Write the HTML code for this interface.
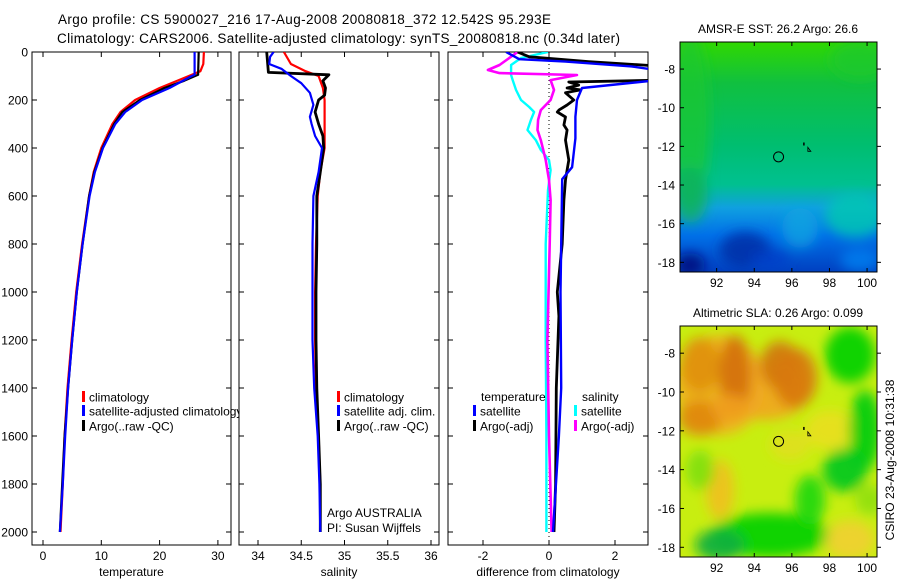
<!DOCTYPE html>
<html><head><meta charset="utf-8"><style>
html,body{margin:0;padding:0;background:#fff;}
svg{display:block;font-family:"Liberation Sans",sans-serif;}
</style></head><body>
<svg id="c" width="900" height="580" viewBox="0 0 900 580" xmlns="http://www.w3.org/2000/svg">
<defs>
<clipPath id="cp1"><rect x="32" y="52" width="199" height="493"/></clipPath>
<clipPath id="cp2"><rect x="239" y="52" width="200" height="493"/></clipPath>
<clipPath id="cp3"><rect x="448" y="52" width="200" height="493"/></clipPath>
<clipPath id="cpleg"><rect x="32" y="52" width="207" height="493"/></clipPath>
<clipPath id="cpm1"><rect x="680" y="42" width="197" height="230"/></clipPath>
<clipPath id="cpm2"><rect x="680" y="326" width="197" height="231"/></clipPath>
<filter id="bl" x="-50%" y="-50%" width="200%" height="200%"><feGaussianBlur stdDeviation="6"/></filter>
<linearGradient id="sstg" x1="0" y1="0" x2="0" y2="1">
<stop offset="0" stop-color="#30d800"/><stop offset="0.18" stop-color="#10c040"/>
<stop offset="0.45" stop-color="#00be70"/><stop offset="0.62" stop-color="#00c090"/>
<stop offset="0.72" stop-color="#10a0e0"/><stop offset="0.84" stop-color="#0070e8"/>
<stop offset="1" stop-color="#0040c0"/></linearGradient>
</defs>
<text x="58" y="24" font-size="13.5" textLength="493">Argo profile: CS 5900027_216 17-Aug-2008 20080818_372 12.542S 95.293E</text>
<text x="57" y="43" font-size="13.5" textLength="563">Climatology: CARS2006. Satellite-adjusted climatology: synTS_20080818.nc (0.34d later)</text>
<g id="g"></g>
</svg>
<script>
// ---------- data ----------
const depthTicks=[0,200,400,600,800,1000,1200,1400,1600,1800,2000];
const tempTicks=[0,10,20,30];
const salTicks=[34,34.5,35,35.5,36];
const salTickLabels=["34","34.5","35","35.5","36"];
const diffTicks=[-2,0,2];
// temperature profiles
const tClimDepth=[0,50,80,100,150,200,250,300,400,500,600,800,1000,1200,1400,1600,1800,2000];
const tClimVal=[27.6,27.5,27,25,20,15.8,13.3,11.9,10,8.7,7.9,6.7,5.7,4.9,4.2,3.7,3.4,3.0];
const tSatDepth=[0,95,100,150,200,250,300,400,500,600,800,1000,1200,1400,1600,1800,2000];
const tSatVal=[26.0,26.0,25.5,21.7,17,14.1,12.4,10.3,8.9,8.0,6.8,5.8,5.0,4.3,3.8,3.4,2.9];
const tArgoDepth=[0,95,120,150,200,250,300,400,500,600,800,1000,1200,1400,1600,1800,2000];
const tArgoVal=[26.7,26.6,24.2,20.8,16.6,13.6,12.2,10.2,8.8,7.9,6.8,5.8,5.0,4.3,3.7,3.3,2.9];
// salinity profiles
const sClimDepth=[0,50,80,100,150,200,300,400,500,600,800,1000,1200,1400,1600,1800,2000];
const sClimVal=[34.30,34.38,34.55,34.70,34.75,34.77,34.77,34.77,34.72,34.69,34.67,34.66,34.66,34.67,34.70,34.72,34.72];
const sSatDepth=[0,20,50,70,100,130,170,220,270,300,350,400,500,600,800,1000,1200,1400,1600,1800,2000];
const sSatVal=[34.18,34.14,34.13,34.27,34.38,34.50,34.60,34.64,34.60,34.62,34.66,34.74,34.70,34.64,34.63,34.63,34.63,34.65,34.69,34.71,34.72];
const sArgoDepth=[0,85,95,120,150,180,200,250,300,350,400,500,600,800,1000,1200,1400,1600,1800,2000];
const sArgoVal=[34.10,34.12,34.82,34.75,34.78,34.77,34.70,34.66,34.70,34.75,34.76,34.72,34.68,34.68,34.67,34.67,34.68,34.70,34.72,34.72];
// differences from climatology
const dTSatDepth=[0,30,40,60,80,100,150,200,270,360,480,530,800,1000,1400,1600,2000];
const dTSatVal=[-1.3,-0.9,0.5,2.5,3.5,4.5,1.0,0.85,0.8,0.8,0.7,0.4,0.37,0.35,0.37,0.3,0.12];
const dTArgoDepth=[0,20,40,60,117,125,138,150,158,170,200,221,242,250,271,304,325,367,408,450,492,533,617,800,1000,1100,1400,1800,2000];
const dTArgoVal=[-0.95,-0.6,1.2,3.5,3.5,0.6,0.9,0.55,0.95,0.5,0.75,0.55,0.3,0.25,0.5,0.45,0.55,0.5,0.55,0.6,0.55,0.5,0.45,0.4,0.25,0.3,0.22,0.2,0.15];
const dSArgoDepth=[0,54,75,88,96,117,158,200,242,283,325,367,450,533,617,800,1200,1600,2000];
const dSArgoVal=[-0.95,-1.5,-1.85,-1.5,0.85,0.05,0.15,0.05,-0.25,-0.33,-0.35,-0.25,-0.1,0.0,0.05,0.02,-0.05,0.0,0.08];
const dSSatDepth=[0,25,54,96,117,158,200,229,250,283,304,325,367,408,450,492,575,800,1200,1600,2000];
const dSSatVal=[-0.03,-0.85,-1.15,-1.15,-1.1,-1.0,-0.85,-0.6,-0.45,-0.55,-0.6,-0.65,-0.4,-0.25,0.0,0.05,-0.03,-0.1,-0.1,-0.08,-0.08];

// ---------- scales ----------
const NS="http://www.w3.org/2000/svg";
const G=document.getElementById('g');
const yD=d=>52+d*0.24;
const xT=v=>43+5.83*v;
const xS=v=>258+86.5*(v-34);
const xDf=v=>549+33*v;
function el(tag,attrs,parent){const e=document.createElementNS(NS,tag);for(const k in attrs)e.setAttribute(k,attrs[k]);(parent||G).appendChild(e);return e;}
function txt(x,y,s,size,anchor,parent){const t=el('text',{x:x,y:y,'font-size':size||12,'text-anchor':anchor||'start'},parent);t.textContent=s;return t;}

function panel(x0,w,name){
  const r=el('rect',{x:x0,y:52,width:w,height:493,fill:'none',stroke:'#000','stroke-width':1});
  
  
  depthTicks.forEach(d=>{
    el('line',{x1:x0,x2:x0+5,y1:yD(d),y2:yD(d),stroke:'#000'});
    el('line',{x1:x0+w-5,x2:x0+w,y1:yD(d),y2:yD(d),stroke:'#000'});
  });
}
function xticks(x0,w,ticks,labels,sx,title,name){
  const g=el('g',{});
  
  
  ticks.forEach((v,i)=>{
    const x=sx(v);
    el('line',{x1:x,x2:x,y1:545,y2:540,stroke:'#000'},g);
    el('line',{x1:x,x2:x,y1:52,y2:57,stroke:'#000'},g);
    txt(x,560,labels[i],12,'middle',g);
  });
  const t=txt(x0+w/2,576,title,12,'middle',g);
  
  
}
function line(dep,val,sx,color,width,clip,name){
  const pts=dep.map((d,i)=>sx(val[i]).toFixed(1)+','+yD(d).toFixed(1)).join(' ');
  const p=el('polyline',{points:pts,fill:'none',stroke:color,'stroke-width':width,'clip-path':'url(#'+clip+')','stroke-linejoin':'round'});
  
  
}
function legend(x,y,color,label,clip,name){
  const g=el('g',{'clip-path':clip?'url(#'+clip+')':''});
  
  
  el('rect',{x:x,y:y-6,width:3,height:11,fill:color},g);
  txt(x+7,y+4.5,label,12,'start',g);
}

panel(32,199,'temperature-panel');
panel(239,200,'salinity-panel');
panel(448,200,'difference-panel');
depthTicks.forEach(d=>{txt(28,yD(d)+4.5,String(d),12,'end');});
xticks(32,199,tempTicks,tempTicks.map(String),xT,'temperature','temperature');
xticks(239,200,salTicks,salTickLabels,xS,'salinity','salinity');
xticks(448,200,diffTicks,diffTicks.map(String),xDf,'difference from climatology','difference');
const zl=el('line',{x1:xDf(0),x2:xDf(0),y1:52,y2:545,stroke:'#000','stroke-dasharray':'1,3'});



line(tClimDepth,tClimVal,xT,'#ff0000',2.2,'cp1','temperature-climatology-line');
line(tArgoDepth,tArgoVal,xT,'#000',2.2,'cp1','temperature-argo-line');
line(tSatDepth,tSatVal,xT,'#0000ff',2.2,'cp1','temperature-satellite-line');

line(sClimDepth,sClimVal,xS,'#ff0000',2.2,'cp2','salinity-climatology-line');
line(sArgoDepth,sArgoVal,xS,'#000',2.8,'cp2','salinity-argo-line');
line(sSatDepth,sSatVal,xS,'#0000ff',2.2,'cp2','salinity-satellite-line');

line(dSSatDepth,dSSatVal,xDf,'#00ffff',2.4,'cp3','salinity-satellite-diff-line');
line(dSArgoDepth,dSArgoVal,xDf,'#ff00ff',2.6,'cp3','salinity-argo-diff-line');
line(dTArgoDepth,dTArgoVal,xDf,'#000',2.8,'cp3','temperature-argo-diff-line');
line(dTSatDepth,dTSatVal,xDf,'#0000ff',2.4,'cp3','temperature-satellite-diff-line');

legend(82,397,'#ff0000','climatology',null,'legend-climatology');
legend(82,411,'#0000ff','satellite-adjusted climatology','cpleg','legend-satellite-adjusted');
legend(82,426,'#000','Argo(..raw -QC)',null,'legend-argo');
legend(337,397,'#ff0000','climatology',null,'legend-salinity-climatology');
legend(337,411,'#0000ff','satellite adj. clim.',null,'legend-salinity-satellite');
legend(337,426,'#000','Argo(..raw -QC)',null,'legend-salinity-argo');
txt(481,401,'temperature',12);
legend(473,411,'#0000ff','satellite',null,'legend-temp-satellite-diff');
legend(473,426,'#000','Argo(-adj)',null,'legend-temp-argo-diff');
txt(582,401,'salinity',12);
legend(574,411,'#00ffff','satellite',null,'legend-sal-satellite-diff');
legend(574,426,'#ff00ff','Argo(-adj)',null,'legend-sal-argo-diff');
txt(327,517,'Argo AUSTRALIA',12);
txt(327,532,'PI: Susan Wijffels',12);

// ---------- maps ----------
const mapLonTicks=[92,94,96,98,100];
const mapLatTicks=[-8,-10,-12,-14,-16,-18];
function mapAxes(top,bottom,name,title){
  const lx=lon=>680+(lon-90.05)*18.8;
  const ly=lat=>top+( -6.6-lat)/11.9*(bottom-top);
  const fr=el('rect',{x:680,y:top,width:197,height:bottom-top,fill:'none',stroke:'#000'});
  
  
  mapLonTicks.forEach(v=>{const x=lx(v);
    el('line',{x1:x,x2:x,y1:top,y2:top+4,stroke:'#000'});
    el('line',{x1:x,x2:x,y1:bottom,y2:bottom-4,stroke:'#000'});
    txt(x,bottom+15,String(v),12,'middle');});
  mapLatTicks.forEach(v=>{const y=ly(v);
    el('line',{x1:680,x2:684,y1:y,y2:y,stroke:'#000'});
    el('line',{x1:877,x2:881,y1:y,y2:y,stroke:'#000'});
    txt(675,y+4.5,String(v),12,'end');});
  const t=txt(778,top-9,title,12,'middle');
  
  
  const c=el('circle',{cx:lx(95.293),cy:ly(-12.542),r:5,fill:'none',stroke:'#000'});
  
  
  el('rect',{x:lx(96.6),y:ly(-11.8),width:1.5,height:3,fill:'#000'});
  el('path',{d:`M${lx(96.85)} ${ly(-12.05)} l0 4 l3 0 z`,fill:'none',stroke:'#000','stroke-width':0.8});
  return {lx,ly};
}
const m1=el('g',{'clip-path':'url(#cpm1)'});


el('rect',{x:680,y:42,width:197,height:230,fill:'url(#sstg)'},m1);
const gb1=el('g',{filter:'url(#bl)'},m1);
el('ellipse',{cx:690,cy:120,rx:20,ry:90,fill:'#20c830',opacity:0.7},gb1);
el('ellipse',{cx:860,cy:60,rx:30,ry:20,fill:'#20c830',opacity:0.7},gb1);
el('ellipse',{cx:690,cy:195,rx:18,ry:28,fill:'#10b060',opacity:0.8},gb1);
el('ellipse',{cx:855,cy:215,rx:30,ry:22,fill:'#00c8b0',opacity:0.8},gb1);
el('ellipse',{cx:800,cy:228,rx:18,ry:20,fill:'#10a8e0',opacity:0.7},gb1);
el('ellipse',{cx:745,cy:250,rx:25,ry:18,fill:'#0030a8',opacity:0.9},gb1);
el('ellipse',{cx:690,cy:265,rx:15,ry:12,fill:'#000f80',opacity:0.9},gb1);
el('ellipse',{cx:770,cy:260,rx:20,ry:10,fill:'#0040c8',opacity:0.8},gb1);
el('ellipse',{cx:860,cy:260,rx:20,ry:12,fill:'#0080f0',opacity:0.8},gb1);
mapAxes(42,272,'sst-map','AMSR-E SST: 26.2 Argo: 26.6');

const m2=el('g',{'clip-path':'url(#cpm2)'});


el('rect',{x:680,y:326,width:197,height:231,fill:'#c8ee10'},m2);
const gb2=el('g',{filter:'url(#bl)'},m2);
[[720,385,45,50,'#f0b020'],[765,390,45,30,'#f0a820'],[700,365,20,28,'#e09010'],
 [735,375,16,40,'#d47008'],[780,365,20,24,'#d07808'],[795,378,22,30,'#d87808'],[700,418,22,18,'#e08810'],
 [730,408,18,14,'#f0a020'],[720,490,14,30,'#f0c020'],[790,445,20,15,'#e0e020'],[830,430,25,20,'#e8e020'],
 [850,355,25,28,'#00d000'],[865,430,16,40,'#00cc10'],[845,470,22,22,'#00c820'],[700,470,14,20,'#80e010'],
 [770,535,60,22,'#00d000'],[720,545,25,16,'#10b040'],[850,540,25,20,'#f0d030'],[810,500,15,25,'#20d810'],[870,500,15,15,'#90e010']]
 .forEach(a=>el('ellipse',{cx:a[0],cy:a[1],rx:a[2],ry:a[3],fill:a[4],opacity:0.92},gb2));
mapAxes(326,557,'sla-map','Altimetric SLA: 0.26 Argo: 0.099');
const cr=txt(0,0,'CSIRO 23-Aug-2008 10:31:38',12,'middle');
cr.setAttribute('transform','translate(894,460) rotate(-90)');


</script>
</body></html>
